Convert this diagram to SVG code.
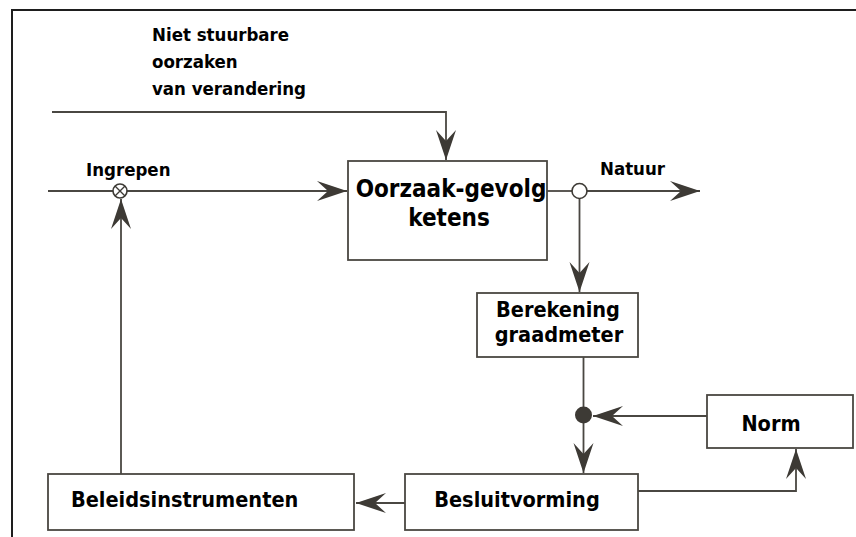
<svg xmlns="http://www.w3.org/2000/svg" width="856" height="537" viewBox="0 0 856 537">
<style>
.box{fill:#fff;stroke:#4a4742;stroke-width:1.8}
.ln{fill:none;stroke:#4a4742;stroke-width:1.8}
.t{font-family:"DejaVu Sans Condensed","DejaVu Sans",sans-serif;font-weight:bold;fill:#000}
.s{font-size:18.5px}
.m{font-size:21.5px}
.b{font-size:24px}
</style>
<defs>
<marker id="ah" markerUnits="userSpaceOnUse" markerWidth="32" markerHeight="22" viewBox="-31 -11 32 22" refX="0" refY="0" orient="auto">
<path d="M0,0 L-30,-10 L-19,0 L-30,10 Z" fill="#3d3a35"/>
</marker>
</defs>
<rect width="856" height="537" fill="#fff"/>
<g id="frame"><path d="M12,537 L12,10 L856,10" fill="none" stroke="#1e1e1e" stroke-width="2"/></g>
<g id="connectors">
<path class="ln" d="M52,112 L446,112 L446,160" marker-end="url(#ah)"/>
<path class="ln" d="M48,191 L113,191 M127,191 L347,191" marker-end="url(#ah)"/>
<path class="ln" d="M121,474 L121,199" marker-end="url(#ah)"/>
<path class="ln" d="M547,191 L572,191"/>
<path class="ln" d="M587,191 L700,191" marker-end="url(#ah)"/>
<path class="ln" d="M579.5,198.5 L579.5,292" marker-end="url(#ah)"/>
<path class="ln" d="M583.5,357 L583.5,473" marker-end="url(#ah)"/>
<path class="ln" d="M707,416 L593,416" marker-end="url(#ah)"/>
<path class="ln" d="M638,491 L796,491 L796,449" marker-end="url(#ah)"/>
<path class="ln" d="M405,503 L356,503" marker-end="url(#ah)"/>
</g>
<g id="sum-junction">
<circle cx="120" cy="191" r="7" fill="#fff" stroke="#3d3a35" stroke-width="1.6"/>
<path d="M115,186 L125,196 M125,186 L115,196" stroke="#3d3a35" stroke-width="1.4"/>
</g>
<g id="split-junction"><circle cx="579.5" cy="191" r="7.5" fill="#fff" stroke="#3d3a35" stroke-width="1.6"/></g>
<g id="compare-junction"><circle cx="583.5" cy="415" r="8.5" fill="#3d3a35"/></g>
<g id="label-niet">
<text class="t s" x="152" y="41">Niet stuurbare</text>
<text class="t s" x="152" y="68">oorzaken</text>
<text class="t s" x="152" y="95">van verandering</text>
</g>
<g id="label-ingrepen"><text class="t s" x="86" y="176">Ingrepen</text></g>
<g id="label-natuur"><text class="t s" x="600" y="175">Natuur</text></g>
<g id="oorzaak">
<rect class="box" x="348" y="161" width="199" height="99"/>
<text class="t b" x="451" y="197" text-anchor="middle">Oorzaak-gevolg</text>
<text class="t b" x="449" y="226" text-anchor="middle">ketens</text>
</g>
<g id="berekening">
<rect class="box" x="477" y="293" width="161" height="64"/>
<text class="t m" x="558" y="317" text-anchor="middle">Berekening</text>
<text class="t m" x="559" y="342" text-anchor="middle">graadmeter</text>
</g>
<g id="norm">
<rect class="box" x="707" y="395" width="146" height="53"/>
<text class="t m" x="771" y="431" text-anchor="middle">Norm</text>
</g>
<g id="besluitvorming">
<rect class="box" x="405" y="474" width="233" height="56"/>
<text class="t m" x="517" y="507" text-anchor="middle">Besluitvorming</text>
</g>
<g id="beleidsinstrumenten">
<rect class="box" x="48" y="474" width="306" height="56"/>
<text class="t m" x="71" y="507">Beleidsinstrumenten</text>
</g>
</svg>
